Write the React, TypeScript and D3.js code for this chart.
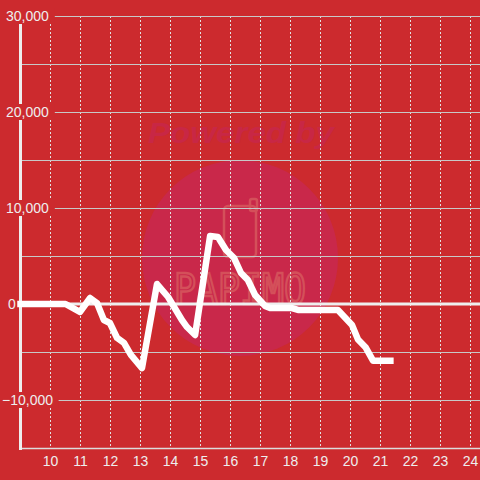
import React from "react";
import * as d3 from "d3";

const hours = [9, 10.5, 10.98, 11.32, 11.55, 11.78, 11.98, 12.22, 12.45, 12.68, 13.05, 13.55, 13.92, 14.38, 14.55, 14.82, 15.32, 15.58, 15.85, 16.12, 16.35, 16.58, 16.82, 17.15, 17.32, 18.05, 18.25, 19.58, 20.05, 20.25, 20.5, 20.75, 21.33];
const values = [0, 0, -830, 625, 100, -1670, -1980, -3540, -4060, -5310, -6670, 2080, 730, -1670, -2400, -3230, 7080, 6980, 5620, 4790, 3230, 2500, 940, -200, -420, -420, -620, -620, -2190, -3700, -4500, -5900, -5900];
const xTicks = [10, 11, 12, 13, 14, 15, 16, 17, 18, 19, 20, 21, 22, 23, 24];
const yGrid = [-10000, -5000, 5000, 10000, 15000, 20000, 25000, 30000];
const yLabels = [30000, 20000, 10000, 0, -10000];

const W = 480, H = 480;
const BG = "#cc2a2e";

export default function App() {
  const x = d3.scaleLinear().domain([9, 24.3]).range([20.5, 479.5]);
  const y = d3.scaleLinear().domain([-15000, 30000]).range([448, 16]);
  const line = d3.line<number>().x((_, i) => x(hours[i])).y((d) => y(d));
  const fmt = d3.format(",");
  const font = "'Liberation Sans', Arial, sans-serif";
  return (
    <svg width={W} height={H} style={{ position: "absolute", left: 0, top: 0, background: BG }} fontFamily={font}>
      <rect x={0} y={0} width={W} height={H} fill={BG} />
      {/* watermark */}
      <g>
        <circle cx={240} cy={258} r={98} fill="#c9284a" />
        <text x={148} y={143} fontSize={30} fontWeight="bold" fontStyle="italic" fill="#c82745" textLength={186} lengthAdjust="spacingAndGlyphs">Powered by</text>
        <rect x={224} y={206} width={32} height={51} rx={4} fill="none" stroke="#d4505a" strokeWidth={2.5} />
        <rect x={250} y={199} width={7} height={12} rx={2} fill="none" stroke="#d4505a" strokeWidth={2.5} />
        <text x={174} y={304} fontSize={42} fontFamily="'DejaVu Sans Mono', monospace" textLength={132} lengthAdjust="spacingAndGlyphs" fill="none" stroke="#d4505a" strokeWidth={2.5}>PAPIMO</text>
      </g>
      {/* vertical dotted grid */}
      {xTicks.map((t) => (
        <line key={"v" + t} x1={x(t)} x2={x(t)} y1={16} y2={448} stroke="#e2e2e2" strokeWidth={1} strokeDasharray="2,2" />
      ))}
      {/* horizontal grid */}
      {yGrid.map((t) => (
        <line key={"h" + t} x1={21} x2={W} y1={Math.round(y(t)) + 0.5} y2={Math.round(y(t)) + 0.5} stroke="#c8c8c8" strokeWidth={1.2} />
      ))}
      {/* bottom axis */}
      <line x1={21} x2={W} y1={448.5} y2={448.5} stroke="#dcdcdc" strokeWidth={1.5} />
      {/* zero line */}
      <line x1={21} x2={W} y1={y(0)} y2={y(0)} stroke="#eeeeee" strokeWidth={3} />
      {/* y axis */}
      <line x1={20.5} x2={20.5} y1={16} y2={450} stroke="#eeeeee" strokeWidth={3} />
      {/* y labels */}
      {yLabels.map((t) => {
        const s = fmt(t);
        const w = s.length * 7.8;
        const x0 = t < 0 ? 2 : t === 0 ? 8 : 6;
        return (
          <g key={"yl" + t}>
            <rect x={x0 - 1} y={y(t) - 8} width={w + 3} height={16} fill={BG} />
            <text x={x0} y={y(t)} dy="0.36em" fontSize={14} fill="#eeeeee">{s}</text>
          </g>
        );
      })}
      {/* x labels */}
      {xTicks.map((t) => (
        <text key={"xl" + t} x={x(t)} y={466} textAnchor="middle" fontSize={14} fill="#eeeeee">{t}</text>
      ))}
      {/* data line */}
      <path d={line(values) || ""} fill="none" stroke="#ffffff" strokeWidth={6.5} strokeLinejoin="round" strokeLinecap="square" />
    </svg>
  );
}
